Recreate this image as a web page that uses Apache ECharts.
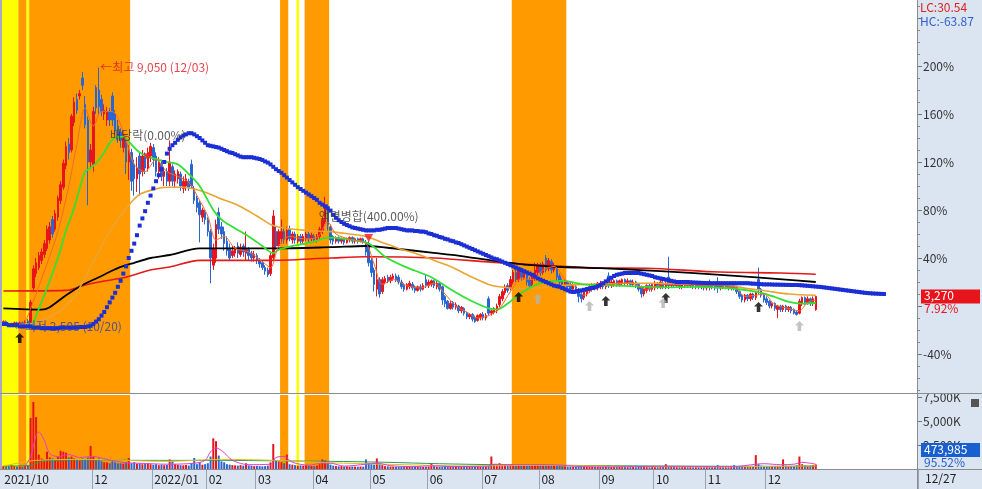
<!DOCTYPE html>
<html><head><meta charset="utf-8">
<script src="https://cdn.jsdelivr.net/npm/echarts@6/dist/echarts.min.js"></script>
<style>html,body{margin:0;padding:0;background:#fff}#c{width:982px;height:489px}</style>
</head><body><div id="c"></div>
<script>
// ---------- calendar ----------
const startDate = '2021-10-15', endDate = '2022-12-27';
const holidays = ['2021-12-31','2022-01-31','2022-02-01','2022-02-02','2022-03-01','2022-03-09','2022-05-05','2022-06-01','2022-06-06','2022-08-15','2022-09-09','2022-09-12','2022-10-03','2022-10-10'];
const futureSlots = 37;
const monthTicks = {'2021-10-15':'2021/10','2021-12-01':'12','2022-01-03':'2022/01','2022-02-03':'02','2022-03-02':'03','2022-04-01':'04','2022-05-02':'05','2022-06-02':'06','2022-07-01':'07','2022-08-01':'08','2022-09-01':'09','2022-10-04':'10','2022-11-01':'11','2022-12-01':'12'};

// ---------- price candles: [open, close, low, high] in % of base (3,030) ----------
const ohlc = [
[-14,-13,-15,-12],[-13,-15,-16,-12],[-15,-16,-17,-14],[-16,-15,-17.3,-14],[-15,-14,-16,-13],[-14,-15,-16,-13],[-15,-14,-16,-13],[-14,-14.5,-16,-13],[-14,-13,-15,-12],[-13,-13.5,-15,-11],
[-13,3,-14,5],[15,31,12,34],[27,36,24,40],[32,42,30,45],[38,45,35,48],[43,52,40,55],[48,64,46,67],[55,66,52,70],[72,60,57,75],[64,77,62,80],
[74,90,71,92],[88,101,85,104],[99,119,97,122],[117,133,114,137],[135,128,122,140],[130,158,128,160],[153,170,150,174],[172,163,160,177],[175,177,172,180],[190,184,180,195],
[168,151,148,175],[155,120,84,158],[120,130,115,135],[118,162,112,166],[182,165,160,184],[180,166,160,198.7],[172,162,158,176],[160,163,155,168],[155,162,150,166],[162,155,150,165],
[175,155,150,178],[160,146,142,163],[150,140,136,155],[145,138,132,148],[132,142,128,146],[137,120,110,140],[120,130,105,134],[128,104,96,131],[118,106,92,122],[106,115,95,124],
[125,110,92,128],[112,125,108,130],[124,115,110,128],[115,128,112,132],[125,133,120,136],[132,122,116,135],[125,112,108,128],[112,120,106,124],[118,108,104,122],[108,112,100,116],
[112,104,100,115],[104,120,100,138],[116,104,100,118],[104,110,99,113],[106,112,102,114],[110,100,96,112],[98,104,94,108],[100,106,96,110],[104,99,96,106],[118,100,98,122],
[98,88,85,100],[90,82,78,92],[86,76,53,88],[74,80,70,82],[78,72,68,80],[72,62,58,74],[62,40,19,64],[34,48,30,52],[40,68,36,72],[78,64,60,82],
[66,60,56,70],[62,52,46,66],[54,46,42,58],[48,40,38,52],[42,46,40,50],[44,48,41,50],[50,44,40,53],[43,49,41,52],[50,45,41,52],[44,48,38,62],
[47,42,38,49],[44,40,37,46],[40,43,37,46],[42,38,35,44],[38,35,32,40],[36,32,30,38],[32,29,26,34],[30,26,24,32],[27,42,25,44],[40,75,38,80],
[62,50,47,66],[50,62,48,64],[56,62,52,72],[62,55,52,66],[55,63,52,66],[64,56,54,67],[55,60,52,62],[60,55,52,62],[54,58,52,60],[58,54,52,60],
[54,58,52,60],[56,60,54,62],[60,56,53,62],[56,59,54,61],[58,55,53,60],[55,58,53,60],[58,64,56,66],[62,72,60,74],[70,84,68,91],[82,68,62,85],
[66,55,52,68],[58,54,51,59],[54,57,52,58],[57,54,52,58],[54,56,52,57],[56,53,51,57],[53,56,52,57],[55,57,53,58],[57,54,52,58],[54,56,52,57],
[56,54,52,57],[54,56,53,57],[56,54,52,57],[53,45,42,55],[52,36,33,54],[38,28,24,40],[30,18,12,32],[14,22,8,40],[22,10,7,24],[12,22,10,24],
[20,23,18,25],[24,21,19,26],[21,24,19,26],[23,25,21,27],[25,22,20,27],[24,20,18,26],[20,16,14,22],[17,14,12,19],[14,18,13,19],[16,19,14,21],
[18,15,13,20],[16,13,11,17],[13,16,12,17],[16,14,12,18],[14,17,13,19],[22,17,15,26],[17,20,15,22],[18,21,16,22],[21,17,15,22],[16,19,14,21],
[19,14,12,20],[16,5,1,17],[8,2,-1,9],[4,-2,-3,5],[-2,2,-3,4],[3,-1,-3,4],[-1,1,-3,3],[0,-4,-6,1],[-4,-1,-6,0],[-2,-6,-8,-1],
[-6,-9,-11,-5],[-9,-7,-11,-6],[-7,-11,-13,-6],[-10,-13,-14,-8],[-12,-8,-13,-7],[-10,-7,-12,-6],[-7,-10,-12,-5],[-10,-8,-12,-6],[6,-6,-8,8],[-6,-4,-8,-2],
[-5,-2,-7,-1],[-4,0,-6,2],[1,8,-1,10],[6,12,4,14],[11,16,9,18],[17,13,11,19],[15,22,13,25],[20,28,18,30],[28,22,20,31],[22,30,20,32],
[30,24,21,32],[24,27,22,29],[26,20,17,28],[22,17,15,24],[18,24,16,26],[23,30,21,36],[28,34,25,36],[34,28,25,36],[28,35,26,37],[40,30,28,42.5],
[31,38,29,40],[37,30,27,39],[30,34,28,36],[32,24,20,34],[25,20,17,27],[21,18,15,23],[17,20,15,22],[20,16,13,21],[18,14,12,20],[14,17,12,19],
[16,12,10,18],[14,8,3,15],[10,6,3,12],[7,12,5,14],[10,15,8,16],[13,16,11,18],[14,18,12,19],[18,15,13,19],[15,19,13,20],[16,19,14,21],
[19,16,14,20],[16,19,14,20],[25,17,15,28],[17,20,15,22],[18,21,16,22],[21,18,16,22],[18,21,16,22],[19,22,17,23],[22,19,17,23],[19,21,17,23],
[21,18,16,22],[18,20,16,22],[20,17,15,21],[18,14,12,19],[16,10,7,17],[10,14,8,16],[13,17,11,18],[17,14,12,19],[14,18,12,19],[15,19,13,21],
[19,16,14,20],[16,20,14,22],[19,16,14,21],[16,19,14,21],[24,17,14,41],[17,20,15,22],[20,17,15,21],[17,19,15,21],[19,16,14,20],[16,19,14,20],
[17,20,15,21],[20,17,15,21],[17,19,15,20],[19,16,14,20],[16,18,14,20],[18,16,14,19],[16,18,14,19],[18,15,13,19],[15,18,13,20],[18,16,13,22],
[16,18,14,19],[18,15,13,19],[18,15,11,24],[15,18,13,19],[18,16,14,19],[16,18,14,19],[18,15,13,19],[15,17,13,18],[17,15,13,18],[16,12,10,17],
[12,8,6,13],[9,5,3,10],[5,9,3,10],[9,6,4,10],[6,10,4,11],[10,7,5,11],[7,11,5,12],[22,14,10,32],[14,9,7,15],[9,5,3,10],
[6,3,1,8],[4,0,-2,5],[0,2,-2,3],[2,-2,-4,3],[-3,0,-10,1],[0,-3,-5,1],[-3,0,-5,1],[0,-3,-5,1],[-3,-1,-5,0],[-1,-4,-6,0],
[-3,-6,-7,-2],[-5,-7,-8,-4],[-6,4,-7,6],[2,7,0,8],[7,3,1,8],[3,6,1,8],[6,2,0,7],[2,6,0,8],[-3,7.92,-4,8.5]
];

// ---------- volume (thousand shares) ----------
const volumeK = [
320,280,350,400,300,260,280,240,300,350,
5300,6980,5400,1500,1100,1000,1800,1200,1100,1000,
1300,1900,1800,1700,1200,1300,1100,1000,900,1100,
1000,1200,2400,1300,900,1100,800,700,700,600,
800,700,600,600,550,700,1150,600,700,550,
600,500,550,600,500,450,500,400,450,400,
420,1000,800,500,450,400,380,420,350,600,
1150,500,700,450,500,600,1300,3200,2900,1400,
800,700,500,450,400,380,350,400,350,600,
380,350,300,320,300,280,300,350,700,2600,
900,800,700,600,1500,500,450,400,350,380,
350,400,350,320,300,350,500,1000,900,600,
450,350,300,280,300,260,280,250,260,250,
240,260,250,1000,600,500,450,1100,500,400,
300,280,260,250,240,230,260,240,220,230,
250,220,210,230,220,240,260,600,300,250,
240,260,350,300,260,240,230,250,220,240,
260,250,230,280,250,240,230,260,320,1300,
500,400,600,500,450,400,450,500,400,450,
400,350,380,350,400,450,500,400,450,500,
400,350,350,300,300,280,260,250,260,240,
250,300,260,240,230,220,230,210,220,200,
220,250,260,200,190,200,210,190,200,180,
190,200,180,210,260,200,190,180,200,190,
180,200,210,500,210,230,200,190,180,190,
200,180,190,170,180,190,170,180,200,190,
180,200,400,190,180,170,180,190,400,200,
220,250,230,210,200,220,1450,500,350,300,
300,280,260,250,300,280,1000,350,300,280,
300,400,1300,500,400,350,380,420,474
];

// ---------- lines ([day index, %]) ----------
const ma5 = [[8,-14],[12,10],[16,35],[20,62],[24,100],[27,135],[30,165],[33,150],[36,162],[40,162],[44,145],[48,118],[52,112],[56,122],[60,112],[64,108],[68,103],[72,88],[75,75],[78,55],[81,58],[85,48],[90,45],[95,37],[98,32],[101,50],[105,58],[110,56],[115,57],[119,70],[122,60],[128,55],[133,52],[136,35],[139,18],[143,22],[148,17],[153,15],[158,19],[162,10],[166,0],[170,-5],[174,-10],[178,-8],[182,-2],[186,12],[190,23],[194,22],[198,30],[202,33],[206,22],[210,15],[213,9],[217,15],[222,18],[230,19],[236,14],[242,18],[250,18],[260,17],[268,16],[272,8],[276,9],[279,10],[283,1],[288,-2],[292,-4],[295,3],[298,5]];
const ma20 = [[0,-15],[10,-17],[12,-8],[16,15],[20,40],[23,63],[26,82],[28,98],[30,112],[32,115],[34,119],[37,128],[39,136],[42,141],[44,141],[46,137],[50,128],[55,123],[60,120],[64,118],[68,110],[72,100],[77,80],[80,72],[84,66],[90,58],[95,50],[99,44],[101,47],[106,50],[113,53],[119,57],[125,56],[133,53],[136,49],[140,41],[147,33],[157,24],[164,14],[171,5],[178,-2],[181,-3],[185,2],[190,11],[197,19],[205,21],[213,18],[219,17.5],[225,17],[235,16],[242,15.5],[253,16],[265,15],[273,13],[278,11],[283,7.5],[288,3.5],[293,2],[298,2.5]];
const ma60 = [[0,-16],[12,-14],[20,-5],[25,5],[28,15],[33,37],[39,62],[46,84],[50,93],[55,97],[60,99],[66,99],[70,97.5],[75,94],[79,90],[86,84],[93,75],[98,68],[103,65],[111,63],[120,62],[127,60],[133,58],[139,53],[145,48],[151,44],[158,38],[164,33],[171,25],[178,18],[182,16],[186,15],[190,14.5],[196,15],[205,17],[213,18],[222,18.5],[230,19],[241,19],[253,18],[265,17.5],[273,14.5],[280,12.5],[288,10],[298,9]];
const ma120 = [[0,-2],[14,-3],[17,-1],[23,9],[29,17.5],[35,24],[42,31.5],[48,36],[54,40],[61,42.5],[72,48],[84,48],[99,48],[120,49],[133,50],[145,47.5],[157,44.5],[170,41],[182,37],[194,34],[205,32.5],[219,31.5],[241,29],[263,26],[287,22],[298,20]];
const ma240 = [[0,12.5],[23,13],[30,17.5],[35,20],[45,24],[54,30],[61,32.5],[72,38],[97,38],[120,40],[133,41],[158,40],[182,36],[219,31.7],[236,31.5],[260,28.5],[285,27.5],[298,26.5]];
const blueLine = [
-15,-15,-16,-16,-16,-16,-17,-17,-17,-17,-17,
-18,-18,-18,-18.5,-18.5,-18.5,-18.5,-18.5,-18.5,-18.5,-18,-18,-18,-18,-18,-18,-18,-17.5,-17.5,-17.5,-17,-16.5,
-15,-13,-11,-8,-5,-1,3,7,11,16,21,27,33,40,46,52,59,67,73,79,86,92,98,104,109,114,120,
127,131,134,136,138.5,140.5,142,143,144,144,143,141.5,140,138,136,134,133.5,133,132.5,132,
131,130,129,128,127.5,126.5,125.5,124.5,124,124,124,124,123.5,123,122.5,121.7,120.5,119.5,118,116,
114,112.5,111,109,107,105,103,101,99,97.5,96,94.5,93,91.5,90,88.5,86,84.5,83,81.5,
79.5,76,73.5,71.5,70,68.5,67.5,66.5,65.5,65,64.5,64,63.5,63,63,63,63,63.5,63.5,64,
64.5,65,65,65,65,64.5,64,63.5,63,63,63,62.5,62.5,62,62,61.5,60.5,60,59,58.5,
57.5,57,56,55.5,54.5,54,53,52.5,51.5,50.5,49.5,48.5,47.5,46.5,45.5,44.5,43.5,42.5,41.5,40.5,
39.5,39,38,37,36,35,34,33,32,31,30,29,28,27,26,24.5,23,22,21,20,
19,18,17,16.5,16,15,14,13,12,11.7,12,12.5,13,13.5,14,14.5,15,15.5,16.5,17.5,
19,20.5,22,23.5,25,26,26.5,27,27.5,27.5,27.5,27.5,27.5,27.5,27,26.5,26,25.5,25,24,
23.5,23,22.5,22,21.5,21,20.5,20,20,20,20,20,19.8,19.6,19.5,19.4,19.3,19.2,19.1,19,
19,19,19,19,19,19,19,19,19,19,19,19,19,19,18.8,18.6,18.5,18.3,18.2,18,
18,18,17.9,17.8,17.8,17.7,17.7,17.6,17.6,17.5,17.5,17.5,17.4,17.2,17,16.8,16.6,16.4,16.2,16,
15.8,15.5,15.2,14.9,14.6,14.3,14,13.7,13.4,13.1,12.8,12.5,12.2,11.9,11.6,11.3,11,10.8,10.6,10.4,10.3,10.2,10.1,10
];
const volMaPink = [[8,300],[10,1300],[12,3500],[13,3850],[15,3000],[17,1600],[20,1300],[24,1500],[28,1200],[33,1300],[38,1000],[45,650],[50,600],[60,500],[70,600],[74,900],[76,1800],[78,2200],[81,1700],[84,900],[90,450],[98,500],[100,1200],[103,1300],[106,700],[112,400],[117,600],[120,600],[125,300],[133,500],[137,600],[142,350],[150,250],[157,330],[165,260],[178,300],[180,500],[185,450],[200,450],[210,280],[220,220],[243,280],[260,250],[268,250],[276,500],[279,550],[285,450],[290,500],[293,700],[296,600],[298,500]];
const volMaGreen = [[0,300],[10,400],[14,800],[20,900],[30,950],[50,900],[80,900],[100,850],[120,800],[140,700],[160,550],[180,450],[200,400],[220,350],[250,300],[280,280],[298,290]];
const volMaYellow = [[0,300],[12,900],[30,1000],[60,800],[80,1000],[100,900],[120,650],[140,500],[170,320],[200,380],[230,260],[260,230],[298,320]];

// ---------- background bands [first day, last day, kind 0=yellow 1=orange] ----------
const bands = [[0,5,0],[6,8,1],[9,9,0],[10,46,1],[102,104,1],[108,108,0],[111,119,1],[187,206,1]];

// ---------- annotations ----------
const highMark = {day:35, pct:198.7, text:'←최고 9,050 (12/03)'};
const lowMark = {day:3, pct:-17.3, text:'←최저 2,505 (10/20)'};
const events = [{day:53, pct:124, text:'배당락(0.00%)'},{day:134, pct:56.7, text:'액면병합(400.00%)'}];
const signalsBlack = [[6,-26.7],[189,7.5],[221,4.2],[243,6.7],[277,-0.8]];
const signalsGray = [[196,5.8],[215,0],[242,2.5],[292,-16.7]];

const yTickLabels = [-40,40,80,120,160,200];
const volTickLabels = [2500,5000,7500];
const lastCloseText = '3,270', lastPctText = '7.92%';
const lastVolText = '473,985', lastVolPctText = '95.52%';
const lcText = 'LC:30.54', hcText = 'HC:-63.87';
const lastDateText = '12/27';

// ---------- build ----------
const cats = [];
for (let d = new Date(startDate+'T00:00:00Z'); d <= new Date(endDate+'T00:00:00Z'); d.setUTCDate(d.getUTCDate()+1)) {
  const wd = d.getUTCDay(), s = d.toISOString().slice(0,10);
  if (wd===0 || wd===6 || holidays.includes(s)) continue;
  cats.push(s);
}
for (let i=1;i<=futureSlots;i++) cats.push('+'+i);

const RED='#e8141c', BLUE='#2a66d2';
const FONT = "'Noto Sans CJK KR','Liberation Sans',sans-serif";
const volData = volumeK.map((v,i)=>({value:v, itemStyle:{color: ohlc[i][1]>=ohlc[i][0]?RED:BLUE}}));

function bandRender(params, api){
  const s=api.value(0), e=api.value(1), k=api.value(2);
  const w=api.size([1,0])[0];
  const cs=params.coordSys;
  const x0=api.coord([s,0])[0]-w/2, x1=api.coord([e,0])[0]+w/2;
  return {type:'rect', shape:{x:x0,y:cs.y,width:x1-x0,height:cs.height}, style:{fill: k===1?'#ff9a00':'#ffff00'}};
}
const minorTicks=[]; for(let v=-70; v<=250; v+=10){ if(v%40!==0) minorTicks.push(v); }

const chart = echarts.init(document.getElementById('c'), null, {renderer:'canvas'});
const option = {
  animation:false,
  backgroundColor:'#ffffff',
  textStyle:{fontFamily:FONT},
  grid:[{left:2,right:64,top:0,height:393},{left:2,right:64,top:395,height:74}],
  xAxis:[
    {type:'category',gridIndex:0,data:cats,boundaryGap:true,axisLine:{show:false},axisTick:{show:false},axisLabel:{show:false},splitLine:{show:false}},
    {type:'category',gridIndex:1,data:cats,boundaryGap:true,axisLine:{show:true,lineStyle:{color:'#8c8c8c'}},
     axisTick:{show:true,length:20,interval:(i,v)=>i>0 && monthTicks[v]!==undefined,lineStyle:{color:'#9aa3b4'}},
     axisLabel:{show:true,interval:(i,v)=>monthTicks[v]!==undefined,formatter:v=>monthTicks[v]||'',align:'left',margin:4,color:'#222',fontSize:12,fontFamily:FONT,padding:[0,0,0,1]},
     splitLine:{show:false}}
  ],
  yAxis:[
    {type:'value',gridIndex:0,position:'right',min:-72.5,max:255,axisLine:{show:false},splitLine:{show:false},
     axisTick:{show:true,length:4,customValues:[-40,0,40,80,120,160,200,240],lineStyle:{color:'#777'}},
     axisLabel:{show:true,customValues:yTickLabels,margin:5,color:'#333',fontSize:12,fontFamily:FONT,formatter:v=>v+'%'}},
    {type:'value',gridIndex:1,position:'right',min:0,max:7708,axisLine:{show:false},splitLine:{show:false},
     axisTick:{show:true,length:4,customValues:volTickLabels,lineStyle:{color:'#777'}},
     axisLabel:{show:true,customValues:volTickLabels,margin:5,color:'#333',fontSize:12,fontFamily:FONT,formatter:v=>v.toLocaleString('en-US')+'K'}},
    {type:'value',gridIndex:0,position:'right',min:-72.5,max:255,axisLine:{show:false},splitLine:{show:false},
     axisTick:{show:true,length:2,customValues:minorTicks,lineStyle:{color:'#888'}},axisLabel:{show:false}}
  ],
  series:[
    {type:'custom',name:'bands',xAxisIndex:0,yAxisIndex:0,data:bands,renderItem:bandRender,z:0,silent:true,clip:true},
    {type:'custom',name:'bandsV',xAxisIndex:1,yAxisIndex:1,data:bands,renderItem:bandRender,z:0,silent:true,clip:true},
    {type:'candlestick',name:'price',xAxisIndex:0,yAxisIndex:0,data:ohlc.map(r=>[r[0],r[1],r[2],r[3]]),barWidth:2,z:2,
     itemStyle:{color:RED,color0:BLUE,borderColor:RED,borderColor0:BLUE,borderWidth:1}},
    {type:'line',name:'ma240',data:ma240,xAxisIndex:0,yAxisIndex:0,symbol:'none',smooth:0.3,lineStyle:{color:'#e31a1a',width:1.6},z:3},
    {type:'line',name:'ma120',data:ma120,xAxisIndex:0,yAxisIndex:0,symbol:'none',smooth:0.3,lineStyle:{color:'#000000',width:1.8},z:3},
    {type:'line',name:'ma60',data:ma60,xAxisIndex:0,yAxisIndex:0,symbol:'none',smooth:0.3,lineStyle:{color:'#eaa531',width:1.6},z:3},
    {type:'line',name:'ma20',data:ma20,xAxisIndex:0,yAxisIndex:0,symbol:'none',smooth:0.3,lineStyle:{color:'#33e033',width:1.8},z:3},
    {type:'line',name:'ma5',data:ma5,xAxisIndex:0,yAxisIndex:0,symbol:'none',smooth:0.3,lineStyle:{color:'#f46a2a',width:1},z:3},
    {type:'line',name:'blue',data:blueLine,xAxisIndex:0,yAxisIndex:0,symbol:'rect',symbolSize:4,showSymbol:true,showAllSymbol:true,
     lineStyle:{width:0,opacity:0},itemStyle:{color:'#1b2fd6'},z:4},
    {type:'scatter',name:'high',xAxisIndex:0,yAxisIndex:0,data:[[highMark.day,highMark.pct]],symbolSize:1,itemStyle:{color:'rgba(0,0,0,0)'},z:6,
     label:{show:true,position:'right',distance:1,formatter:highMark.text,color:'#e0141e',fontSize:12,fontFamily:FONT}},
    {type:'scatter',name:'low',xAxisIndex:0,yAxisIndex:0,data:[[lowMark.day,lowMark.pct]],symbolSize:1,itemStyle:{color:'rgba(0,0,0,0)'},z:6,
     label:{show:true,position:'right',distance:1,formatter:lowMark.text,color:'#2a3fa8',fontSize:12,fontFamily:FONT}},
    {type:'scatter',name:'events',xAxisIndex:0,yAxisIndex:0,data:events.map(e=>({value:[e.day,e.pct],label:{formatter:e.text}})),
     symbol:'triangle',symbolRotate:180,symbolSize:[9,8],itemStyle:{color:'#ee1c1c'},z:6,
     label:{show:true,position:'top',distance:12,color:'#333',fontSize:12,fontFamily:FONT}},
    {type:'scatter',name:'sigB',xAxisIndex:0,yAxisIndex:0,data:signalsBlack,symbol:'path://M5 0 L10 5 L7 5 L7 11 L3 11 L3 5 L0 5 Z',symbolSize:[9,10],itemStyle:{color:'#000'},z:6},
    {type:'scatter',name:'sigG',xAxisIndex:0,yAxisIndex:0,data:signalsGray,symbol:'path://M5 0 L10 5 L7 5 L7 11 L3 11 L3 5 L0 5 Z',symbolSize:[9,10],itemStyle:{color:'#b4b4b4'},z:6},
    {type:'bar',name:'volume',xAxisIndex:1,yAxisIndex:1,data:volData,barWidth:2,z:2},
    {type:'line',name:'vGreen',data:volMaGreen,xAxisIndex:1,yAxisIndex:1,symbol:'none',smooth:0.3,lineStyle:{color:'#2e9a58',width:1},z:3},
    {type:'line',name:'vYellow',data:volMaYellow,xAxisIndex:1,yAxisIndex:1,symbol:'none',smooth:0.3,lineStyle:{color:'#d8c21c',width:1},z:3},
    {type:'line',name:'vPink',data:volMaPink,xAxisIndex:1,yAxisIndex:1,symbol:'none',smooth:0.3,lineStyle:{color:'#e040c8',width:1},z:3}
  ],
  graphic:[
    {id:'bgR',type:'rect',z:-1,silent:true,shape:{x:918,y:0,width:64,height:489},style:{fill:'#dbe5f2'}},
    {id:'bgB',type:'rect',z:-1,silent:true,shape:{x:0,y:470,width:918,height:19},style:{fill:'#dbe5f2'}},
    {id:'lft',type:'rect',z:5,silent:true,shape:{x:0,y:0,width:2,height:470},style:{fill:'#a8a8c4'}},
    {id:'vl',type:'line',z:5,silent:true,shape:{x1:917.5,y1:0,x2:917.5,y2:489},style:{stroke:'#8c8c8c',lineWidth:1}},
    {id:'h1',type:'line',z:5,silent:true,shape:{x1:0,y1:393.5,x2:982,y2:393.5},style:{stroke:'#8c8c8c',lineWidth:1}},
    {id:'h2',type:'line',z:5,silent:true,shape:{x1:0,y1:469.5,x2:982,y2:469.5},style:{stroke:'#8c8c8c',lineWidth:1}},
    {id:'lc',type:'text',z:6,style:{text:lcText,x:920,y:1,fill:'#e0201e',font:'12px '+FONT}},
    {id:'hc',type:'text',z:6,style:{text:hcText,x:920,y:15,fill:'#3060c8',font:'12px '+FONT}},
    {id:'dt',type:'text',z:6,style:{text:lastDateText,x:925,y:472,fill:'#222',font:'12px '+FONT}},
    {id:'vb',type:'rect',z:6,shape:{x:921,y:443,width:59,height:14},style:{fill:'#1a5fd0'}},
    {id:'vbt',type:'text',z:7,style:{text:lastVolText,x:924,y:443,fill:'#fff',font:'12px '+FONT}},
    {id:'vbp',type:'text',z:7,style:{text:lastVolPctText,x:924,y:456,fill:'#2a5cc8',font:'12px '+FONT}},
    {id:'xi',type:'rect',z:6,shape:{x:971,y:399,width:8,height:8},style:{fill:'#555'}}
  ]
};
chart.setOption(option);
const lastPct = ohlc[ohlc.length-1][1];
const py = chart.convertToPixel({yAxisIndex:0}, lastPct);
chart.setOption({graphic:[
  {id:'pb',type:'rect',z:6,shape:{x:921,y:py-7,width:59,height:14},style:{fill:'#e8141c'}},
  {id:'pbt',type:'text',z:7,style:{text:lastCloseText,x:924,y:py-7,fill:'#fff',font:'12px '+FONT}},
  {id:'pbp',type:'text',z:7,style:{text:lastPctText,x:924,y:py+6,fill:'#e8141c',font:'12px '+FONT}}
]});
</script>
</body></html>
